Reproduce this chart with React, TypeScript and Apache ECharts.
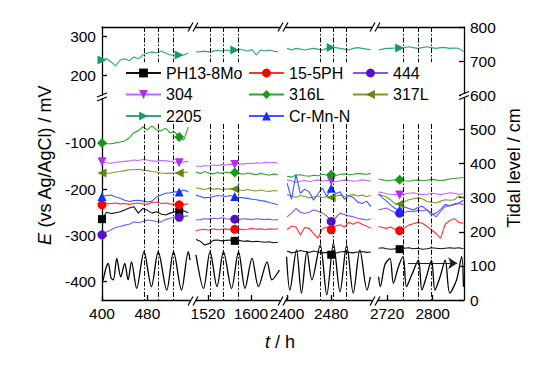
import React, { useEffect, useRef } from 'react';
import * as echarts from 'echarts';

const FONT = '"Liberation Sans", Arial, Helvetica, sans-serif';

// ---------------- data ----------------
const xRanges = [[400, 555], [1498, 1654], [2398, 2554], [2704, 2855]];
const xTickValues = [[400, 480], [1520, 1600], [2400, 2480], [2720, 2800]];
const eTopTicks = [200, 300];
const eBottomTicks = [-400, -300, -200, -100];

const times1 = [400, 408, 416, 424, 432, 440, 448, 456, 464, 472, 480, 488, 496, 504, 512, 520, 528, 536, 544, 552];
const times2 = [1498, 1506, 1514, 1522, 1530, 1538, 1546, 1554, 1562, 1570, 1578, 1586, 1594, 1602, 1610, 1618, 1626, 1634, 1642, 1650];
const times3 = [2400, 2408, 2416, 2424, 2432, 2440, 2448, 2456, 2464, 2472, 2480, 2488, 2496, 2504, 2512, 2520, 2528, 2536, 2544, 2552];
const times4 = [2705, 2712, 2719, 2726, 2734, 2742, 2750, 2758, 2766, 2774, 2782, 2790, 2798, 2806, 2814, 2822, 2830, 2838, 2846, 2854];
const segTimes = [times1, times2, times3, times4];

const ph138mo1 = [-265, -250, -253, -251, -249, -245, -241, -238, -252, -242, -246, -252, -249, -254, -256, -252, -249, -249, -247, -251];
const ph138mo2 = [-309, -313, -321, -318, -311, -310, -312, -311, -310, -312, -311, -313, -312, -314, -313, -314, -315, -314, -316, -315];
const ph138mo3 = [-334, -338, -336, -333, -335, -337, -334, -336, -338, -337, -342, -339, -336, -335, -337, -338, -336, -335, -337, -336];
const ph138mo4 = [-328, -327, -329, -330, -329, -330, -328, -327, -329, -328, -330, -329, -327, -328, -329, -328, -327, -328, -327, -329];

const ph155a = [-234, -232, -231, -230, -232, -231, -233, -231, -230, -232, -233, -229, -228, -231, -230, -232, -233, -234, -233, -232];
const ph155b = [-290, -288, -287, -289, -286, -288, -287, -286, -288, -287, -286, -288, -287, -285, -287, -286, -288, -286, -287, -286];
const ph155c = [-288, -280, -282, -299, -283, -285, -296, -306, -286, -282, -288, -280, -277, -282, -272, -276, -271, -276, -280, -285];
const ph155d = [-281, -283, -285, -282, -287, -290, -284, -278, -275, -272, -274, -281, -288, -296, -306, -276, -268, -264, -272, -274];

const s444a = [-299, -293, -288, -283, -281, -278, -276, -271, -273, -270, -267, -268, -270, -271, -266, -263, -261, -261, -259, -258];
const s444b = [-267, -266, -264, -265, -263, -264, -262, -264, -265, -265, -266, -264, -265, -266, -264, -265, -266, -265, -267, -266];
const s444c = [-260, -252, -242, -250, -253, -250, -245, -248, -252, -258, -270, -262, -252, -255, -258, -260, -263, -265, -267, -264];
const s444d = [-245, -243, -241, -246, -251, -252, -250, -248, -249, -246, -247, -245, -252, -260, -248, -238, -236, -234, -231, -233];

const s304a = [-141, -143, -144, -142, -141, -140, -139, -137, -138, -136, -137, -139, -140, -138, -139, -140, -142, -143, -141, -140];
const s304b = [-150, -151, -149, -150, -148, -149, -147, -148, -146, -147, -145, -146, -144, -145, -143, -144, -142, -143, -142, -144];
const s304c = [-180, -182, -185, -183, -181, -184, -182, -180, -183, -181, -182, -184, -182, -180, -181, -183, -182, -180, -181, -183];
const s304d = [-206, -208, -210, -211, -212, -213, -211, -209, -208, -210, -212, -211, -209, -210, -212, -210, -208, -209, -211, -210];

const s316a = [-100, -102, -102, -100, -98, -96, -89, -78, -74, -65, -72, -63, -72, -74, -68, -78, -76, -87, -94, -66];
const s316b = [-163, -166, -162, -165, -167, -164, -166, -163, -165, -164, -166, -168, -165, -167, -169, -166, -168, -170, -167, -169];
const s316c = [-172, -174, -170, -169, -171, -172, -170, -171, -168, -170, -169, -171, -168, -167, -169, -168, -166, -167, -168, -166];
const s316d = [-178, -180, -182, -181, -180, -180, -182, -183, -181, -180, -182, -181, -179, -180, -182, -180, -178, -177, -176, -175];

const s317a = [-165, -166, -165, -163, -162, -160, -158, -158, -157, -159, -160, -162, -163, -165, -166, -166, -165, -165, -164, -163];
const s317b = [-197, -199, -201, -198, -200, -199, -201, -200, -199, -200, -202, -203, -201, -203, -204, -202, -204, -205, -203, -204];
const s317c = [-212, -215, -218, -214, -216, -219, -217, -215, -218, -216, -218, -215, -213, -216, -214, -212, -215, -213, -216, -214];
const s317d = [-213, -214, -217, -223, -232, -232, -228, -223, -221, -219, -221, -227, -228, -230, -226, -223, -224, -223, -215, -219];

const s2205a = [240, 244, 235, 225, 240, 243, 238, 248, 243, 253, 258, 261, 258, 263, 258, 253, 253, 253, 253, 258];
const s2205b = [261, 261, 263, 261, 263, 265, 263, 266, 263, 266, 268, 266, 263, 267, 253, 266, 263, 266, 263, 261];
const s2205c = [270, 266, 270, 268, 266, 268, 270, 268, 266, 270, 272, 272, 270, 268, 266, 270, 272, 270, 268, 266];
const s2205d = [266, 268, 270, 270, 271, 271, 272, 274, 272, 270, 272, 274, 272, 270, 272, 272, 270, 271, 270, 262];

const crmnA = [-216, -214, -213, -217, -220, -224, -227, -225, -224, -226, -228, -226, -217, -213, -209, -208, -206, -206, -202, -206];
const crmnB = [-213, -216, -219, -218, -216, -214, -215, -216, -214, -216, -218, -219, -220, -222, -223, -225, -226, -229, -231, -234];
const crmnC = [-187, -222, -168, -209, -200, -206, -224, -210, -198, -216, -198, -210, -206, -222, -214, -218, -228, -231, -226, -238];
const crmnD = [-210, -219, -226, -234, -242, -245, -238, -242, -245, -240, -237, -245, -256, -252, -244, -233, -236, -232, -230, -224];

const tide1 = [[400, 55], [402, 59], [407, 94], [411, 107], [416, 64], [420, 59], [426, 122], [433, 68], [440, 107], [446, 59], [452, 112], [461, 34], [474, 142], [487, 39], [499, 142], [514, 29], [526, 142], [540, 29], [552, 142], [555, 117]];
const tide2 = [[1498, 132], [1512, 34], [1524, 142], [1537, 39], [1549, 142], [1564, 34], [1577, 142], [1589, 34], [1602, 122], [1614, 39], [1630, 112], [1639, 59], [1653, 88]];
const tide3 = [[2399, 127], [2405, 29], [2417, 147], [2426, 20], [2436, 142], [2445, 59], [2460, 161], [2472, 15], [2484, 166], [2496, 24], [2508, 161], [2520, 20], [2532, 147], [2545, 29], [2551, 68]];
const tide4 = [[2705, 68], [2708, 39], [2716, 103], [2725, 122], [2731, 49], [2740, 98], [2748, 127], [2754, 39], [2763, 73], [2775, 117], [2781, 29], [2789, 68], [2798, 117], [2804, 29], [2813, 68], [2822, 117], [2830, 20], [2842, 59], [2851, 127], [2854, 39]];
const tideSegs = [tide1, tide2, tide3, tide4];

const highTideTimes = [[474, 499, 525], [1525, 1549, 1577], [2460, 2484, 2508], [2748, 2775, 2798]];
const markerIndex = [[0, 17], [9], [10], [5]];
const arrowStart = [2757, 108];
const arrowEnd = [2843, 108];

const seriesNames = ['PH13-8Mo', '15-5PH', '444', '304', '316L', '317L', '2205', 'Cr-Mn-N'];
const seriesValues: Record<string, number[][]> = {
  'PH13-8Mo': [ph138mo1, ph138mo2, ph138mo3, ph138mo4],
  '15-5PH': [ph155a, ph155b, ph155c, ph155d],
  '444': [s444a, s444b, s444c, s444d],
  '304': [s304a, s304b, s304c, s304d],
  '316L': [s316a, s316b, s316c, s316d],
  '317L': [s317a, s317b, s317c, s317d],
  '2205': [s2205a, s2205b, s2205c, s2205d],
  'Cr-Mn-N': [crmnA, crmnB, crmnC, crmnD],
};
const legendCols = [['PH13-8Mo', '304', '2205'], ['15-5PH', '316L', 'Cr-Mn-N'], ['444', '317L']];

// ---------------- styles / layout ----------------
const styles: Record<string, any> = {
  'PH13-8Mo': { color: '#000000', line: '#111111', symbol: 'rect', rotate: 0, size: 8 },
  '15-5PH': { color: '#ff0000', line: '#ff3030', symbol: 'circle', rotate: 0, size: 9 },
  '444': { color: '#5a10c8', line: '#8a55ee', symbol: 'circle', rotate: 0, size: 9 },
  '304': { color: '#b030f0', line: '#c466ff', symbol: 'triangle', rotate: 180, size: 9 },
  '316L': { color: '#1a9a1a', line: '#2aa82a', symbol: 'diamond', rotate: 0, size: 10 },
  '317L': { color: '#5f8a10', line: '#7d9c22', symbol: 'triangle', rotate: 90, size: 9 },
  '2205': { color: '#169a6a', line: '#2aa87a', symbol: 'triangle', rotate: -90, size: 9 },
  'Cr-Mn-N': { color: '#1030ff', line: '#3a5aff', symbol: 'triangle', rotate: 0, size: 9 },
};
const segLeft = [102, 196, 286, 378];
const segWidth = [88, 84, 86, 86];
const legendLeft = [125, 248, 352];
const AX = { color: '#000', width: 1.3 };
const plain = (v: number) => String(v);
const labelStyle = { fontSize: 15.5, color: '#000', fontFamily: FONT, formatter: plain };

function buildOption() {
  const grid: any[] = [];
  const xAxis: any[] = [];
  const yAxis: any[] = [];
  // top E grids 0..3, bottom E grids 4..7, tide grids 8..11
  for (let g = 0; g < 12; g++) {
    const i = g % 4;
    const kind = g < 4 ? 'top' : g < 8 ? 'bot' : 'tide';
    grid.push({
      left: segLeft[i], width: segWidth[i],
      top: kind === 'bot' ? 99 : 27,
      height: kind === 'top' ? 68 : kind === 'bot' ? 201 : 273,
    });
    const [mn, mx] = xRanges[i];
    if (kind === 'top') {
      xAxis.push({ type: 'value', gridIndex: g, min: mn, max: mx, position: 'top',
        axisLine: { show: true, onZero: false, lineStyle: AX }, axisTick: { show: false },
        axisLabel: { show: false }, splitLine: { show: false } });
      yAxis.push(i === 0 ? {
        type: 'value', gridIndex: g, min: 150, max: 325, position: 'left',
        axisLine: { show: true, onZero: false, lineStyle: AX },
        axisTick: { show: true, inside: true, length: 5, customValues: eTopTicks, lineStyle: AX },
        axisLabel: { show: true, customValues: eTopTicks, margin: 6, ...labelStyle },
        splitLine: { show: false },
      } : { type: 'value', gridIndex: g, min: 150, max: 325, show: false });
    } else if (kind === 'bot') {
      xAxis.push({ type: 'value', gridIndex: g, min: mn, max: mx, position: 'bottom',
        axisLine: { show: true, onZero: false, lineStyle: AX },
        axisTick: { show: true, inside: true, length: 5, customValues: xTickValues[i], lineStyle: AX },
        axisLabel: { show: true, customValues: xTickValues[i], margin: 5, ...labelStyle },
        splitLine: { show: false } });
      yAxis.push(i === 0 ? {
        type: 'value', gridIndex: g, min: -440, max: -5, position: 'left',
        axisLine: { show: true, onZero: false, lineStyle: AX },
        axisTick: { show: true, inside: true, length: 5, customValues: eBottomTicks, lineStyle: AX },
        axisLabel: { show: true, customValues: eBottomTicks, margin: 6, ...labelStyle },
        splitLine: { show: false },
      } : { type: 'value', gridIndex: g, min: -440, max: -5, show: false });
    } else {
      xAxis.push({ type: 'value', gridIndex: g, min: mn, max: mx, show: false });
      yAxis.push(i === 3 ? {
        type: 'value', gridIndex: g, min: 0, max: 800, interval: 100, position: 'right',
        axisLine: { show: true, onZero: false, lineStyle: AX },
        axisTick: { show: true, inside: true, length: 5, lineStyle: AX },
        axisLabel: { show: true, margin: 6, ...labelStyle },
        splitLine: { show: false },
      } : { type: 'value', gridIndex: g, min: 0, max: 800, show: false });
    }
  }

  const series: any[] = [];
  seriesNames.forEach((name) => {
    const st = styles[name];
    const isTop = name === '2205';
    for (let i = 0; i < 4; i++) {
      const g = isTop ? i : 4 + i;
      const vals = seriesValues[name][i];
      series.push({
        type: 'line', name, xAxisIndex: g, yAxisIndex: g,
        symbol: st.symbol, symbolSize: st.size, symbolRotate: st.rotate,
        showSymbol: true, showAllSymbol: true, silent: true, clip: false,
        lineStyle: { color: st.line, width: 1.1 },
        itemStyle: { color: st.color },
        emphasis: { disabled: true },
        z: 3,
        data: segTimes[i].map((t, k) => markerIndex[i].includes(k)
          ? { value: [t, vals[k]] }
          : { value: [t, vals[k]], symbol: 'none' }),
      });
    }
  });

  const dash = { color: '#000', width: 1, type: [5, 2, 1.5, 2] };
  for (let i = 0; i < 4; i++) {
    const g = 8 + i;
    const mlData: any[] = [];
    highTideTimes[i].forEach((t) => {
      mlData.push([{ coord: [t, 800] }, { coord: [t, 697] }]);
      mlData.push([{ coord: [t, 516] }, { coord: [t, 0] }]);
    });
    if (i === 3) {
      mlData.push([
        { coord: arrowStart, symbol: 'none', lineStyle: { type: 'solid', width: 1.2, color: '#222' } },
        { coord: arrowEnd, symbol: 'arrow', symbolSize: 9 },
      ]);
    }
    series.push({
      type: 'line', name: 'Tidal level', xAxisIndex: g, yAxisIndex: g,
      symbol: 'none', silent: true, z: 4, smooth: 0.3,
      lineStyle: { color: '#000', width: 1.3 },
      emphasis: { disabled: true },
      data: tideSegs[i],
      markLine: {
        silent: true, symbol: ['none', 'none'], label: { show: false },
        emphasis: { disabled: true }, lineStyle: dash, data: mlData,
      },
    });
  }

  const brk: any[] = [];
  const L = (x1: number, y1: number, x2: number, y2: number) => ({
    type: 'line', z: 100, silent: true,
    shape: { x1, y1, x2, y2 }, style: { stroke: '#000', lineWidth: 1.2 },
  });
  [193, 283, 375].forEach((cx) => {
    [27, 301].forEach((y) => {
      [cx - 2.5, cx + 2.5].forEach((c) => brk.push(L(c - 2.5, y + 4.5, c + 2.5, y - 4.5)));
    });
  });
  brk.push({ type: 'rect', z: 99, silent: true, shape: { x: 461, y: 94, width: 6, height: 3.5 }, style: { fill: '#fff' } });
  [[102, 97], [464, 95.5]].forEach(([x, y]) => {
    [y - 2, y + 2].forEach((yy) => brk.push(L(x - 5, yy + 2, x + 5, yy - 2)));
  });

  const graphic: any[] = [
    ...brk,
    { type: 'text', z: 100, x: 45, y: 165, rotation: Math.PI / 2, silent: true,
      style: { text: '{i|E} (vs Ag/AgCl) / mV', fontSize: 18, fontFamily: FONT, fill: '#000', align: 'center', verticalAlign: 'middle',
        rich: { i: { fontStyle: 'italic', fontSize: 18, fontFamily: FONT, fill: '#000' } } } },
    { type: 'text', z: 100, x: 514, y: 168, rotation: Math.PI / 2, silent: true,
      style: { text: 'Tidal level / cm', fontSize: 18, fontFamily: FONT, fill: '#000', align: 'center', verticalAlign: 'middle' } },
    { type: 'text', z: 100, x: 280, y: 342, silent: true,
      style: { text: '{i|t} / h', fontSize: 18, fontFamily: FONT, fill: '#000', align: 'center', verticalAlign: 'middle',
        rich: { i: { fontStyle: 'italic', fontSize: 18, fontFamily: FONT, fill: '#000' } } } },
  ];

  const legend = legendCols.map((col, c) => ({
    data: col, orient: 'vertical', left: legendLeft[c], top: 65, padding: 0,
    itemWidth: 35, itemHeight: 11, itemGap: 5.5, selectedMode: false,
    textStyle: { fontSize: 16, color: '#000', fontFamily: FONT },
  }));

  return {
    animation: false,
    backgroundColor: '#fff',
    textStyle: { fontFamily: FONT },
    grid, xAxis, yAxis, series, legend, graphic,
  };
}

export default function App() {
  const ref = useRef<HTMLDivElement>(null);
  useEffect(() => {
    if (!ref.current) return;
    const chart = echarts.init(ref.current, null, { renderer: 'svg' });
    chart.setOption(buildOption() as any);
    return () => chart.dispose();
  }, []);
  return (
    <div ref={ref} style={{ position: 'fixed', left: 0, top: 0, width: 558, height: 366, background: '#fff' }} />
  );
}
